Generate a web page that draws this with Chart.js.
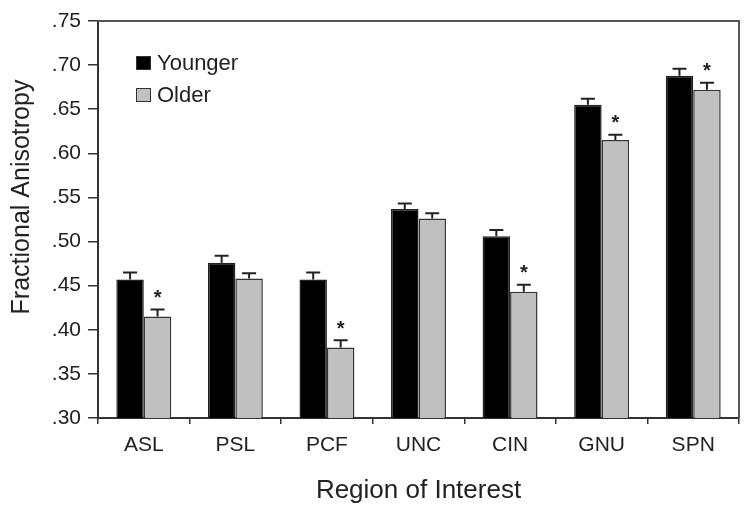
<!DOCTYPE html>
<html>
<head>
<meta charset="utf-8">
<script src="https://cdn.jsdelivr.net/npm/chart.js@4/dist/chart.umd.min.js"></script>
<style>
html,body{margin:0;padding:0;background:#fff;}
#wrap{width:750px;height:510px;}
</style>
</head>
<body>
<div id="wrap"><canvas id="c" width="750" height="510"></canvas></div>
<script>
const categories = ['ASL','PSL','PCF','UNC','CIN','GNU','SPN'];
const younger = [0.457, 0.476, 0.457, 0.537, 0.506, 0.655, 0.688];
const youngerErr = [0.008, 0.008, 0.008, 0.006, 0.007, 0.007, 0.008];
const older = [0.415, 0.458, 0.380, 0.526, 0.443, 0.615, 0.672];
const olderErr = [0.008, 0.006, 0.008, 0.006, 0.008, 0.006, 0.008];
const significant = [true, false, true, false, true, true, true];
const yTicks = [0.30,0.35,0.40,0.45,0.50,0.55,0.60,0.65,0.70,0.75];
const yTitle = 'Fractional Anisotropy';
const xTitle = 'Region of Interest';

const FONT = '"Liberation Sans", Arial, sans-serif';
const AXIS = '#333';

const errPlugin = {
  id: 'errbars',
  afterDatasetsDraw(chart) {
    const ctx = chart.ctx;
    const yS = chart.scales.y;
    const errs = [youngerErr, olderErr];
    ctx.save();
    chart.data.datasets.forEach((ds, di) => {
      const meta = chart.getDatasetMeta(di);
      meta.data.forEach((bar, i) => {
        const top = yS.getPixelForValue(ds.data[i] + errs[di][i]);
        const x = bar.x;
        ctx.strokeStyle = '#222';
        ctx.lineWidth = 2;
        ctx.beginPath();
        ctx.moveTo(x, bar.y);
        ctx.lineTo(x, top);
        ctx.moveTo(x - 7, top);
        ctx.lineTo(x + 7, top);
        ctx.stroke();
        if (di === 1 && significant[i]) {
          ctx.fillStyle = '#222';
          ctx.font = 'bold 20px ' + FONT;
          ctx.textAlign = 'center';
          ctx.textBaseline = 'middle';
          ctx.fillText('*', x, top - 11);
        }
      });
    });
    // frame top/right
    const a = chart.chartArea;
    ctx.strokeStyle = '#555';
    ctx.lineWidth = 2;
    ctx.beginPath();
    ctx.moveTo(a.left, a.top);
    ctx.lineTo(a.right, a.top);
    ctx.lineTo(a.right, a.bottom);
    ctx.stroke();
    // legend
    const items = [['Younger', '#000'], ['Older', '#c0c0c0']];
    ctx.font = '22px ' + FONT;
    ctx.textAlign = 'left';
    ctx.textBaseline = 'middle';
    items.forEach((it, k) => {
      const cy = 63 + k * 32;
      ctx.fillStyle = it[1];
      ctx.fillRect(136, cy - 7, 15, 14);
      ctx.strokeStyle = '#333';
      ctx.lineWidth = 1;
      ctx.strokeRect(136.5, cy - 6.5, 14, 13);
      ctx.fillStyle = '#222';
      ctx.fillText(it[0], 157, cy + 1);
    });
    // y title
    ctx.save();
    ctx.translate(22, 197);
    ctx.rotate(-Math.PI / 2);
    ctx.font = '25px ' + FONT;
    ctx.fillStyle = '#222';
    ctx.textAlign = 'center';
    ctx.textBaseline = 'middle';
    ctx.fillText(yTitle, 0, 0);
    ctx.restore();
    ctx.restore();
  }
};

new Chart(document.getElementById('c'), {
  type: 'bar',
  data: {
    labels: categories,
    datasets: [
      { label: 'Younger', data: younger, backgroundColor: '#000', borderColor: '#222', borderWidth: 1.5,
        categoryPercentage: 0.6, barPercentage: 1.0 },
      { label: 'Older', data: older, backgroundColor: '#c0c0c0', borderColor: '#333', borderWidth: 1.5,
        categoryPercentage: 0.6, barPercentage: 1.0 }
    ]
  },
  options: {
    responsive: false,
    animation: false,
    devicePixelRatio: 1,
    layout: { padding: { top: 21, right: 11, left: 0, bottom: 0 } },
    plugins: { legend: { display: false }, tooltip: { enabled: false } },
    scales: {
      x: {
        grid: { drawOnChartArea: false, tickLength: 6, color: AXIS, lineWidth: 1.5, offset: true },
        border: { color: AXIS, width: 2 },
        ticks: { color: '#222', font: { family: FONT, size: 21 }, padding: 9 },
        title: { display: true, text: xTitle, color: '#222', font: { family: FONT, size: 26 }, padding: { top: 8 } },
        afterFit: s => { s.height = 92; }
      },
      y: {
        min: 0.30, max: 0.75,
        afterBuildTicks: s => { s.ticks = yTicks.map(v => ({ value: v })); },
        grid: { drawOnChartArea: false, tickLength: 10, color: AXIS, lineWidth: 1.5 },
        border: { color: AXIS, width: 2 },
        ticks: { color: '#222', font: { family: FONT, size: 21 }, padding: 7,
          callback: v => Number(v).toFixed(2).replace(/^0/, '') },
        title: { display: false },
        afterFit: s => { s.width = 98; }
      }
    }
  },
  plugins: [errPlugin]
});
</script>
</body>
</html>
